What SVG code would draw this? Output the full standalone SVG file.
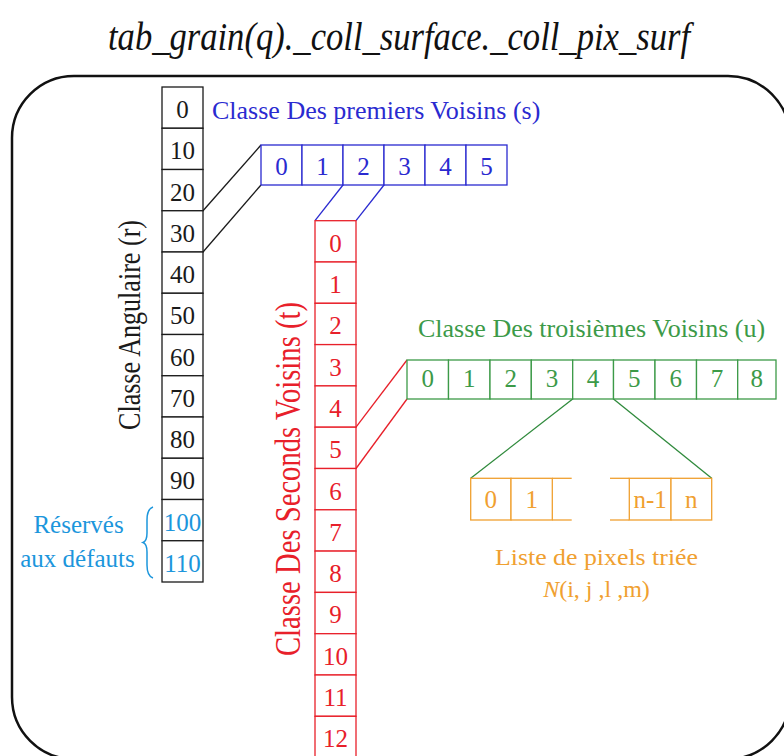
<svg xmlns="http://www.w3.org/2000/svg" width="784" height="756" viewBox="0 0 784 756" font-family="'Liberation Serif', 'Times New Roman', Times, serif">
<style>
svg text{font-family:'Liberation Serif','Times New Roman',Times,serif}
.cell{fill:#fff;stroke-width:1.3}
.k{stroke:#1a1a1a}
.bl{stroke:#2a2ad0}
.rd{stroke:#e8202a}
.gr{stroke:#3c9a48}
.or{stroke:#f0a030}
.n{font-size:25px;text-anchor:middle}
.tk{fill:#1a1a1a}
.tb{fill:#2a2ad0}
.tr{fill:#e8202a}
.tg{fill:#3c9a48}
.to{fill:#f0a030}
.tc{fill:#1c96dc}
.ln{fill:none;stroke-width:1.3}
</style>
<rect id="frame" x="12" y="76" width="778" height="683" rx="62" ry="62" fill="none" stroke="#111" stroke-width="2.5"/>
<text id="title" x="399" y="50" font-family="'Liberation Serif', serif" font-size="39" font-style="italic" text-anchor="middle" textLength="582" lengthAdjust="spacingAndGlyphs" fill="#111">tab_grain(q)._coll_surface._coll_pix_surf</text>

<g id="connectors" class="ln">
<line x1="203" y1="210.75" x2="261" y2="145" stroke="#1a1a1a"/>
<line x1="203" y1="252" x2="261" y2="185" stroke="#1a1a1a"/>
<line x1="343" y1="185" x2="315" y2="220.7" stroke="#2a2ad0"/>
<line x1="384" y1="185" x2="356" y2="220.7" stroke="#2a2ad0"/>
<line x1="356" y1="427.2" x2="407" y2="360" stroke="#e8202a"/>
<line x1="356" y1="468.5" x2="407" y2="399" stroke="#e8202a"/>
<line x1="572.7" y1="399" x2="470.7" y2="478.3" stroke="#2f8a3c"/>
<line x1="613.5" y1="399" x2="711.7" y2="478.3" stroke="#2f8a3c"/>
</g>

<g id="angular" font-family="'Liberation Serif', serif">
<g class="cell k">
<rect x="162" y="87" width="41" height="41.25"/>
<rect x="162" y="128.25" width="41" height="41.25"/>
<rect x="162" y="169.5" width="41" height="41.25"/>
<rect x="162" y="210.75" width="41" height="41.25"/>
<rect x="162" y="252" width="41" height="41.25"/>
<rect x="162" y="293.25" width="41" height="41.25"/>
<rect x="162" y="334.5" width="41" height="41.25"/>
<rect x="162" y="375.75" width="41" height="41.25"/>
<rect x="162" y="417" width="41" height="41.25"/>
<rect x="162" y="458.25" width="41" height="41.25"/>
<rect x="162" y="499.5" width="41" height="41.25"/>
<rect x="162" y="540.75" width="41" height="41.25"/>
</g>
<g class="n tk">
<text x="182.5" y="118">0</text>
<text x="182.5" y="159.25">10</text>
<text x="182.5" y="200.5">20</text>
<text x="182.5" y="241.75">30</text>
<text x="182.5" y="283">40</text>
<text x="182.5" y="324.25">50</text>
<text x="182.5" y="365.5">60</text>
<text x="182.5" y="406.75">70</text>
<text x="182.5" y="448">80</text>
<text x="182.5" y="489.25">90</text>
</g>
<g class="n tc">
<text x="182.5" y="530.5">100</text>
<text x="182.5" y="571.75">110</text>
</g>
<text transform="translate(140,325) rotate(-90)" font-size="32" text-anchor="middle" textLength="210" lengthAdjust="spacingAndGlyphs" class="tk">Classe Angulaire (r)</text>
</g>

<g id="reserves" font-family="'Liberation Serif', serif">
<text x="78.5" y="533" font-size="25" text-anchor="middle" class="tc">Réservés</text>
<text x="77.5" y="567" font-size="25" text-anchor="middle" class="tc">aux défauts</text>
<path d="M153,507 Q147,509 147,520 L147,533 Q147,541 143,542.5 Q147,544 147,552 L147,565 Q147,576 153,578" fill="none" stroke="#1c96dc" stroke-width="1.5"/>
</g>

<g id="premiers" font-family="'Liberation Serif', serif">
<g class="cell bl">
<rect x="261" y="145" width="41" height="40"/>
<rect x="302" y="145" width="41" height="40"/>
<rect x="343" y="145" width="41" height="40"/>
<rect x="384" y="145" width="41" height="40"/>
<rect x="425" y="145" width="41" height="40"/>
<rect x="466" y="145" width="41" height="40"/>
</g>
<g class="n tb">
<text x="281.5" y="175">0</text>
<text x="322.5" y="175">1</text>
<text x="363.5" y="175">2</text>
<text x="404.5" y="175">3</text>
<text x="445.5" y="175">4</text>
<text x="486.5" y="175">5</text>
</g>
<text x="212" y="119" font-size="26" class="tb">Classe Des premiers Voisins (s)</text>
</g>

<g id="seconds" font-family="'Liberation Serif', serif">
<g class="cell rd">
<rect x="315" y="220.7" width="41" height="41.3"/>
<rect x="315" y="262" width="41" height="41.3"/>
<rect x="315" y="303.3" width="41" height="41.3"/>
<rect x="315" y="344.6" width="41" height="41.3"/>
<rect x="315" y="385.9" width="41" height="41.3"/>
<rect x="315" y="427.2" width="41" height="41.3"/>
<rect x="315" y="468.5" width="41" height="41.3"/>
<rect x="315" y="509.8" width="41" height="41.3"/>
<rect x="315" y="551.1" width="41" height="41.3"/>
<rect x="315" y="592.4" width="41" height="41.3"/>
<rect x="315" y="633.7" width="41" height="41.3"/>
<rect x="315" y="675" width="41" height="41.3"/>
<rect x="315" y="716.3" width="41" height="41.3"/>
</g>
<g class="n tr">
<text x="335.5" y="251.7">0</text>
<text x="335.5" y="293">1</text>
<text x="335.5" y="334.3">2</text>
<text x="335.5" y="375.6">3</text>
<text x="335.5" y="416.9">4</text>
<text x="335.5" y="458.2">5</text>
<text x="335.5" y="499.5">6</text>
<text x="335.5" y="540.8">7</text>
<text x="335.5" y="582.1">8</text>
<text x="335.5" y="623.4">9</text>
<text x="335.5" y="664.7">10</text>
<text x="335.5" y="706">11</text>
<text x="335.5" y="747.3">12</text>
</g>
<text transform="translate(300,479) rotate(-90)" font-size="35" text-anchor="middle" textLength="354" lengthAdjust="spacingAndGlyphs" class="tr">Classe Des Seconds Voisins (t)</text>
</g>

<g id="troisiemes" font-family="'Liberation Serif', serif">
<g class="cell gr">
<rect x="407" y="360" width="41.5" height="39"/>
<rect x="448.5" y="360" width="41.5" height="39"/>
<rect x="490" y="360" width="41.3" height="39"/>
<rect x="531.3" y="360" width="41.4" height="39"/>
<rect x="572.7" y="360" width="40.8" height="39"/>
<rect x="613.5" y="360" width="41.5" height="39"/>
<rect x="655" y="360" width="41.5" height="39"/>
<rect x="696.5" y="360" width="41.2" height="39"/>
<rect x="737.7" y="360" width="38.3" height="39"/>
</g>
<g class="n tg">
<text x="427.75" y="387">0</text>
<text x="469.25" y="387">1</text>
<text x="510.65" y="387">2</text>
<text x="552" y="387">3</text>
<text x="593.1" y="387">4</text>
<text x="634.25" y="387">5</text>
<text x="675.75" y="387">6</text>
<text x="717.1" y="387">7</text>
<text x="756.85" y="387">8</text>
</g>
<text x="418" y="337" font-size="26" class="tg">Classe Des troisièmes Voisins (u)</text>
</g>

<g id="liste" font-family="'Liberation Serif', serif">
<g class="cell or">
<rect x="470.7" y="478.3" width="40.3" height="41.7"/>
<rect x="511" y="478.3" width="41.3" height="41.7"/>
<rect x="629.3" y="478.3" width="41.7" height="41.7"/>
<rect x="671" y="478.3" width="40.7" height="41.7"/>
</g>
<g class="ln or">
<line x1="552.3" y1="478.3" x2="571.7" y2="478.3"/>
<line x1="552.3" y1="520" x2="571.7" y2="520"/>
<line x1="610" y1="478.3" x2="629.3" y2="478.3"/>
<line x1="610" y1="520" x2="629.3" y2="520"/>
</g>
<g class="n to">
<text x="490.85" y="508">0</text>
<text x="531.65" y="508">1</text>
<text x="650.15" y="508">n-1</text>
<text x="691.35" y="508">n</text>
</g>
<text x="596.5" y="565" font-size="24" text-anchor="middle" textLength="203" lengthAdjust="spacingAndGlyphs" class="to">Liste de pixels triée</text>
<text x="596.5" y="597" font-size="24" text-anchor="middle" class="to"><tspan font-style="italic">N</tspan>(i, j ,l ,m)</text>
</g>
</svg>
